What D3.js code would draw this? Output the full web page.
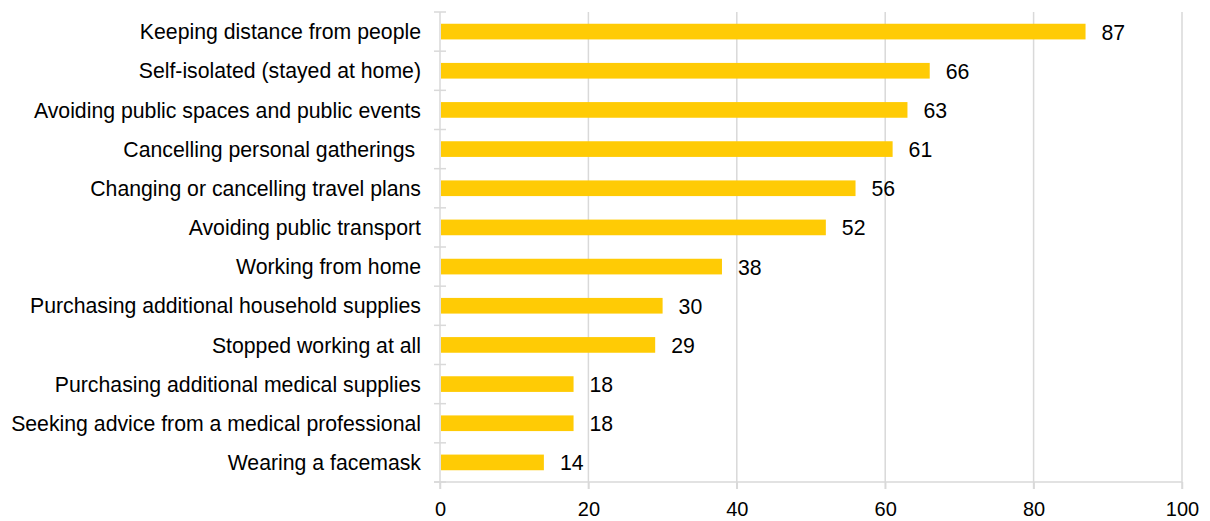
<!DOCTYPE html>
<html>
<head>
<meta charset="utf-8">
<script src="https://cdn.jsdelivr.net/npm/d3@7"></script>
<style>
  body { margin: 0; background: #fff; }
  text { font-family: "Liberation Sans", Arial, sans-serif; fill: #000; }
</style>
</head>
<body>
<svg id="chart" width="1210" height="521"></svg>
<script>
var categories = [
  "Keeping distance from people",
  "Self-isolated (stayed at home)",
  "Avoiding public spaces and public events",
  "Cancelling personal gatherings ",
  "Changing or cancelling travel plans",
  "Avoiding public transport",
  "Working from home",
  "Purchasing additional household supplies",
  "Stopped working at all",
  "Purchasing additional medical supplies",
  "Seeking advice from a medical professional",
  "Wearing a facemask"
];
var values = [87, 66, 63, 61, 56, 52, 38, 30, 29, 18, 18, 14];
var xTicks = [0, 20, 40, 60, 80, 100];

var margin = { top: 12, right: 28, bottom: 39, left: 440 };
var width = 1210, height = 521;
var gridColor = "#d9d9d9", barColor = "#ffcb05";

var svg = d3.select("#chart");

var x = d3.scaleLinear().domain([0, 100]).range([margin.left, width - margin.right]);
var y = d3.scaleBand().domain(categories)
  .range([margin.top, height - margin.bottom])
  .paddingInner(0.6).paddingOuter(0.3);

var yBottom = height - margin.bottom;

/* gridlines */
svg.append("g").selectAll("line")
  .data(xTicks.slice(1))
  .enter().append("line")
  .attr("x1", function(d) { return x(d); })
  .attr("x2", function(d) { return x(d); })
  .attr("y1", margin.top)
  .attr("y2", yBottom + 7)
  .attr("stroke", gridColor)
  .attr("stroke-width", 1.5);

/* bottom axis */
var xAxis = d3.axisBottom(x).tickValues(xTicks).tickSize(7).tickPadding(13);
var gx = svg.append("g")
  .attr("transform", "translate(0," + yBottom + ")")
  .call(xAxis);
gx.select(".domain").remove();
gx.selectAll(".tick line").attr("stroke", gridColor).attr("stroke-width", 1.5);
gx.selectAll(".tick text")
  .style("font-size", "20px")
  .style("font-family", "'Liberation Sans', Arial, sans-serif")
  .attr("fill", "#000");
svg.append("line")
  .attr("x1", x(0) - 6).attr("x2", x(100))
  .attr("y1", yBottom).attr("y2", yBottom)
  .attr("stroke", gridColor).attr("stroke-width", 1.5);

/* left axis with crossing ticks */
var bandEdges = categories.map(function(c) { return y(c) - y.step() * y.paddingInner() / 2; });
bandEdges.push(yBottom);
svg.append("line")
  .attr("x1", x(0)).attr("x2", x(0))
  .attr("y1", margin.top).attr("y2", yBottom + 7)
  .attr("stroke", gridColor).attr("stroke-width", 1.5);
svg.append("g").selectAll("line")
  .data(bandEdges)
  .enter().append("line")
  .attr("x1", x(0) - 6).attr("x2", x(0) + 6)
  .attr("y1", function(d) { return d; })
  .attr("y2", function(d) { return d; })
  .attr("stroke", gridColor).attr("stroke-width", 1.5);

/* bars */
svg.append("g").selectAll("rect")
  .data(values)
  .enter().append("rect")
  .attr("x", x(0) + 1)
  .attr("y", function(d, i) { return y(categories[i]); })
  .attr("width", function(d) { return x(d) - x(0) - 1; })
  .attr("height", y.bandwidth())
  .attr("fill", barColor);

/* value labels */
svg.append("g").selectAll("text")
  .data(values)
  .enter().append("text")
  .attr("x", function(d) { return x(d) + 16; })
  .attr("y", function(d, i) { return y(categories[i]) + y.bandwidth() / 2; })
  .attr("dy", "0.38em")
  .style("font-size", "21.25px")
  .text(function(d) { return d; });

/* category labels */
svg.append("g").selectAll("text")
  .data(categories)
  .enter().append("text")
  .attr("x", x(0) - 19)
  .attr("y", function(d) { return y(d) + y.bandwidth() / 2; })
  .attr("dy", "0.36em")
  .attr("text-anchor", "end")
  .style("font-size", "21.25px")
  .style("white-space", "pre")
  .text(function(d) { return d; });
</script>
</body>
</html>
